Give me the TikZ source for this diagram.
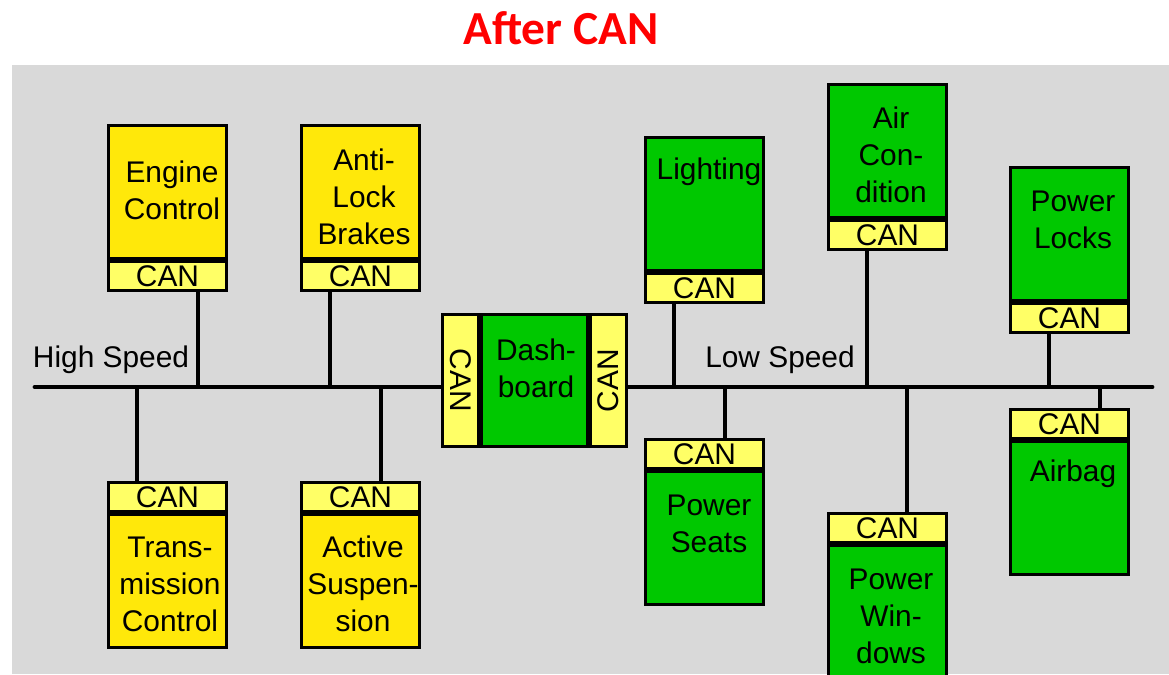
\documentclass[tikz,border=0pt]{standalone}
\usepackage{fontspec}
\setmainfont{Liberation Sans}
\newfontfamily\titlefont{Carlito}
\definecolor{bggray}{RGB}{217,217,217}
\definecolor{ecuyellow}{RGB}{255,232,10}
\definecolor{canyellow}{RGB}{255,255,102}
\definecolor{ecugreen}{RGB}{0,200,0}
\definecolor{titlered}{RGB}{255,0,0}
\begin{document}
\begin{tikzpicture}[x=0.02cm,y=-0.02cm,line cap=round,line join=round,
  ecu/.style={draw,line width=1.7pt,line join=miter,minimum width=2.36cm,minimum height=2.66cm,inner sep=0pt,anchor=north west},
  fast/.style={ecu,fill=ecuyellow},
  slow/.style={ecu,fill=ecugreen},
  canbox/.style={draw,line width=1.7pt,line join=miter,fill=canyellow,minimum width=2.36cm,minimum height=0.58cm,inner sep=0pt,font=\fontsize{17}{21}\selectfont},
  txt/.style={align=center,inner sep=0pt,font=\fontsize{17}{21}\selectfont},
  divider/.style={line width=3pt,line cap=butt},
  stub/.style={line width=2pt},
  bus/.style={line width=2.8pt}]
  \clip (0,0) rectangle (1169,674);
  \fill[bggray] (12,65) rectangle (1169,674);
  \node[font={\titlefont\bfseries\fontsize{27}{32}\selectfont},text=titlered,inner sep=0pt] (title) at (561,28) {After CAN};

  % high speed modules
  \node[fast] (engine) at (107,124) {};
  \node[canbox,anchor=north] (engineCAN) at (engine.south) {CAN};
  \draw[divider] (engine.south west) -- (engine.south east);
  \node[txt] (engineT) at (172,190) {Engine\\Control};

  \node[fast] (abs) at (300,124) {};
  \node[canbox,anchor=north] (absCAN) at (abs.south) {CAN};
  \draw[divider] (abs.south west) -- (abs.south east);
  \node[txt] (absT) at (364,197) {Anti-\\Lock\\Brakes};

  \node[canbox,anchor=north west] (transCAN) at (107,481) {CAN};
  \node[fast,anchor=north] (trans) at (transCAN.south) {};
  \draw[divider] (trans.north west) -- (trans.north east);
  \node[txt] (transT) at (170,584) {Trans-\\mission\\Control};

  \node[canbox,anchor=north west] (suspCAN) at (300,481) {CAN};
  \node[fast,anchor=north] (susp) at (suspCAN.south) {};
  \draw[divider] (susp.north west) -- (susp.north east);
  \node[txt] (suspT) at (363,584) {Active\\Suspen-\\sion};

  % dashboard
  \node[slow,minimum width=2.12cm,minimum height=2.64cm] (dash) at (480,313) {};
  \node[canbox,minimum width=0.72cm,minimum height=2.64cm,anchor=north east] (dashL) at (dash.north west) {};
  \node[canbox,minimum width=0.72cm,minimum height=2.64cm,anchor=north west] (dashR) at (dash.north east) {};
  \draw[divider] (dash.north west) -- (dash.south west);
  \draw[divider] (dash.north east) -- (dash.south east);
  \node[txt] (dashT) at (536,368) {Dash-\\board};
  \node[txt,rotate=-90] (dashLT) at (dashL.center) {CAN};
  \node[txt,rotate=90] (dashRT) at (dashR.center) {CAN};

  % low speed modules
  \node[slow] (light) at (644,136) {};
  \node[canbox,anchor=north] (lightCAN) at (light.south) {CAN};
  \draw[divider] (light.south west) -- (light.south east);
  \node[txt] (lightT) at (709,172) {Lighting};

  \node[slow] (air) at (827,83) {};
  \node[canbox,anchor=north] (airCAN) at (air.south) {CAN};
  \draw[divider] (air.south west) -- (air.south east);
  \node[txt] (airT) at (891,155) {Air\\Con-\\dition};

  \node[slow] (locks) at (1009,166) {};
  \node[canbox,anchor=north] (locksCAN) at (locks.south) {CAN};
  \draw[divider] (locks.south west) -- (locks.south east);
  \node[txt] (locksT) at (1073,220) {Power\\Locks};

  \node[canbox,anchor=north west] (seatsCAN) at (644,438) {CAN};
  \node[slow,anchor=north] (seats) at (seatsCAN.south) {};
  \draw[divider] (seats.north west) -- (seats.north east);
  \node[txt] (seatsT) at (709,524) {Power\\Seats};

  \node[canbox,anchor=north west] (windowsCAN) at (827,512) {CAN};
  \node[slow,anchor=north] (windows) at (windowsCAN.south) {};
  \draw[divider] (windows.north west) -- (windows.north east);
  \node[txt] (windowsT) at (891,616) {Power\\Win-\\dows};

  \node[canbox,anchor=north west] (airbagCAN) at (1009,408) {CAN};
  \node[slow,anchor=north] (airbag) at (airbagCAN.south) {};
  \draw[divider] (airbag.north west) -- (airbag.north east);
  \node[txt] (airbagT) at (1073,474) {Airbag};

  % bus lines
  \coordinate (busW) at (35,387);
  \coordinate (busE) at (1152,387);
  \draw[bus] (busW) -- (busW -| dashL.west);
  \draw[bus] (busE -| dashR.east) -- (busE);
  \node[txt] (highT) at (111,360) {High Speed};
  \node[txt] (lowT) at (780,360) {Low Speed};

  % taps
  \coordinate (tapTrans) at (137,387);
  \coordinate (tapEngine) at (198,387);
  \coordinate (tapAbs) at (330,387);
  \coordinate (tapSusp) at (381,387);
  \coordinate (tapLight) at (674,387);
  \coordinate (tapSeats) at (725,387);
  \coordinate (tapAir) at (867,387);
  \coordinate (tapWindows) at (907,387);
  \coordinate (tapLocks) at (1049,387);
  \coordinate (tapAirbag) at (1100,387);
  \draw[stub] (tapEngine) -- (tapEngine |- engineCAN.south);
  \draw[stub] (tapAbs) -- (tapAbs |- absCAN.south);
  \draw[stub] (tapTrans) -- (tapTrans |- transCAN.north);
  \draw[stub] (tapSusp) -- (tapSusp |- suspCAN.north);
  \draw[stub] (tapLight) -- (tapLight |- lightCAN.south);
  \draw[stub] (tapAir) -- (tapAir |- airCAN.south);
  \draw[stub] (tapLocks) -- (tapLocks |- locksCAN.south);
  \draw[stub] (tapSeats) -- (tapSeats |- seatsCAN.north);
  \draw[stub] (tapWindows) -- (tapWindows |- windowsCAN.north);
  \draw[stub] (tapAirbag) -- (tapAirbag |- airbagCAN.north);
\end{tikzpicture}
\end{document}
